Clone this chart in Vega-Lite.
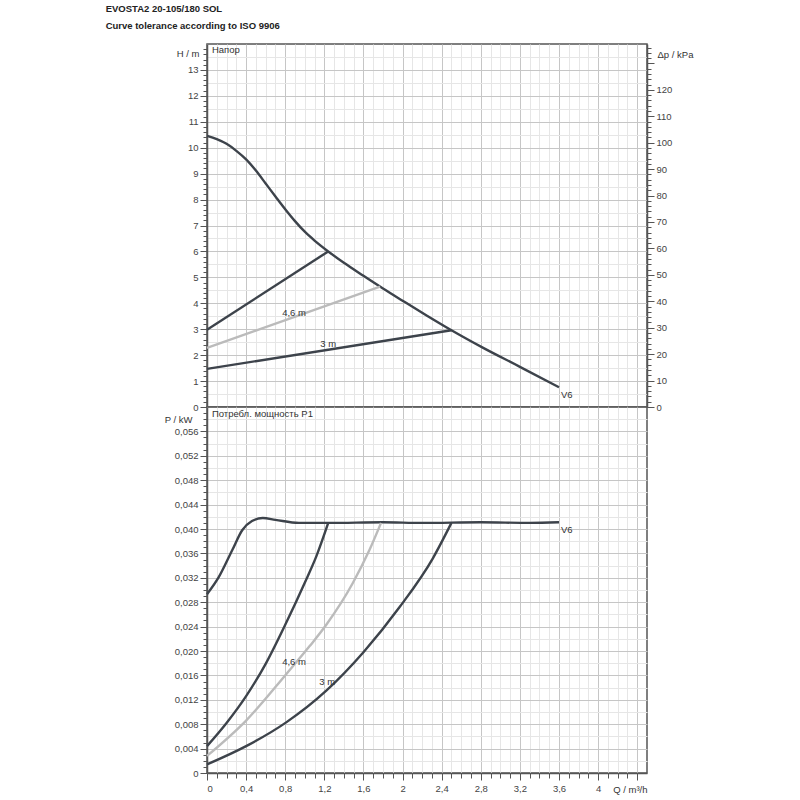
{
  "$schema": "https://vega.github.io/schema/vega-lite/v6.json",
  "padding": {"left": 105, "top": 3, "right": 5, "bottom": 5},
  "bounds": "flush",
  "config": {
    "font": "Liberation Sans",
    "view": {"stroke": "#555", "strokeWidth": 1.5},
    "axis": {
      "labelFont": "Liberation Sans", "labelFontSize": 9.5, "labelColor": "#444", "labelOverlap": false,
      "titleFont": "Liberation Sans", "titleFontSize": 9.5, "titleFontWeight": "normal", "titleColor": "#333",
      "domainColor": "#555", "domainWidth": 1.5, "tickColor": "#555", "labelPadding": 2
    },
    "text": {"font": "Liberation Sans", "fontSize": 9.5, "color": "#333"}
  },
  "title": {
    "text": "EVOSTA2 20-105/180 SOL",
    "subtitle": "Curve tolerance according to ISO 9906",
    "anchor": "start", "font": "Liberation Sans", "fontSize": 9.5, "fontWeight": "bold", "color": "#222",
    "subtitleFont": "Liberation Sans", "subtitleFontSize": 9.5, "subtitleFontWeight": "bold", "subtitleColor": "#222",
    "subtitlePadding": 8, "offset": 11, "dx": -55
  },
  "datasets": {
    "head": [
      {"curve": "V6", "Q": 0, "H": 10.46},
      {"curve": "V6", "Q": 0.1, "H": 10.33},
      {"curve": "V6", "Q": 0.2, "H": 10.15},
      {"curve": "V6", "Q": 0.3, "H": 9.88},
      {"curve": "V6", "Q": 0.4, "H": 9.55},
      {"curve": "V6", "Q": 0.5, "H": 9.12},
      {"curve": "V6", "Q": 0.6, "H": 8.62},
      {"curve": "V6", "Q": 0.7, "H": 8.12},
      {"curve": "V6", "Q": 0.8, "H": 7.63},
      {"curve": "V6", "Q": 0.9, "H": 7.17},
      {"curve": "V6", "Q": 1.0, "H": 6.76},
      {"curve": "V6", "Q": 1.1, "H": 6.42},
      {"curve": "V6", "Q": 1.24, "H": 6.0},
      {"curve": "V6", "Q": 1.4, "H": 5.56},
      {"curve": "V6", "Q": 1.6, "H": 5.06},
      {"curve": "V6", "Q": 1.8, "H": 4.57},
      {"curve": "V6", "Q": 2.0, "H": 4.1},
      {"curve": "V6", "Q": 2.25, "H": 3.52},
      {"curve": "V6", "Q": 2.5, "H": 2.96},
      {"curve": "V6", "Q": 2.82, "H": 2.29},
      {"curve": "V6", "Q": 3.2, "H": 1.55},
      {"curve": "V6", "Q": 3.6, "H": 0.76},
      {"curve": "upper", "Q": 0, "H": 2.98},
      {"curve": "upper", "Q": 1.24, "H": 6.0},
      {"curve": "4,6 m", "Q": 0, "H": 2.28},
      {"curve": "4,6 m", "Q": 1.77, "H": 4.64},
      {"curve": "3 m", "Q": 0, "H": 1.47},
      {"curve": "3 m", "Q": 2.5, "H": 2.96}
    ],
    "power": [
      {"curve": "V6", "Q": 0, "P": 0.0293},
      {"curve": "V6", "Q": 0.12, "P": 0.0321},
      {"curve": "V6", "Q": 0.26, "P": 0.0366},
      {"curve": "V6", "Q": 0.36, "P": 0.0398},
      {"curve": "V6", "Q": 0.46, "P": 0.0413},
      {"curve": "V6", "Q": 0.57, "P": 0.0418},
      {"curve": "V6", "Q": 0.7, "P": 0.0415},
      {"curve": "V6", "Q": 0.94, "P": 0.041},
      {"curve": "V6", "Q": 1.25, "P": 0.041},
      {"curve": "V6", "Q": 1.8, "P": 0.0411},
      {"curve": "V6", "Q": 2.2, "P": 0.041},
      {"curve": "V6", "Q": 2.8, "P": 0.0411},
      {"curve": "V6", "Q": 3.3, "P": 0.041},
      {"curve": "V6", "Q": 3.6, "P": 0.0411},
      {"curve": "upper", "Q": 0, "P": 0.0044},
      {"curve": "upper", "Q": 0.2, "P": 0.0082},
      {"curve": "upper", "Q": 0.4, "P": 0.0126},
      {"curve": "upper", "Q": 0.6, "P": 0.0179},
      {"curve": "upper", "Q": 0.8, "P": 0.0243},
      {"curve": "upper", "Q": 1.0, "P": 0.0312},
      {"curve": "upper", "Q": 1.12, "P": 0.0356},
      {"curve": "upper", "Q": 1.24, "P": 0.041},
      {"curve": "4,6 m", "Q": 0, "P": 0.0028},
      {"curve": "4,6 m", "Q": 0.4, "P": 0.0086},
      {"curve": "4,6 m", "Q": 0.81, "P": 0.0162},
      {"curve": "4,6 m", "Q": 1.05, "P": 0.0208},
      {"curve": "4,6 m", "Q": 1.22, "P": 0.0243},
      {"curve": "4,6 m", "Q": 1.49, "P": 0.0311},
      {"curve": "4,6 m", "Q": 1.66, "P": 0.0365},
      {"curve": "4,6 m", "Q": 1.78, "P": 0.041},
      {"curve": "3 m", "Q": 0, "P": 0.0014},
      {"curve": "3 m", "Q": 0.4, "P": 0.0044},
      {"curve": "3 m", "Q": 0.81, "P": 0.0083},
      {"curve": "3 m", "Q": 1.22, "P": 0.0135},
      {"curve": "3 m", "Q": 1.6, "P": 0.0198},
      {"curve": "3 m", "Q": 1.97, "P": 0.0272},
      {"curve": "3 m", "Q": 2.31, "P": 0.0352},
      {"curve": "3 m", "Q": 2.5, "P": 0.041}
    ],
    "headLabels": [
      {"text": "4,6 m", "Q": 0.89, "H": 3.63},
      {"text": "3 m", "Q": 1.24, "H": 2.43},
      {"text": "V6", "Q": 3.68, "H": 0.46}
    ],
    "powerLabels": [
      {"text": "4,6 m", "Q": 0.89, "P": 0.0182},
      {"text": "3 m", "Q": 1.23, "P": 0.015},
      {"text": "V6", "Q": 3.68, "P": 0.0398}
    ]
  },
  "spacing": 0,
  "vconcat": [
    {
      "width": 440,
      "height": 363,
      "layer": [
        {
          "layer": [
            {
              "data": {"name": "head"},
              "mark": {"type": "line", "interpolate": "monotone"},
              "encoding": {
                "x": {
                  "field": "Q", "type": "quantitative",
                  "scale": {"domain": [0, 4.5], "nice": false},
                  "axis": {
                    "values": [0,0.1,0.2,0.3,0.4,0.5,0.6,0.7,0.8,0.9,1,1.1,1.2,1.3,1.4,1.5,1.6,1.7,1.8,1.9,2,2.1,2.2,2.3,2.4,2.5,2.6,2.7,2.8,2.9,3,3.1,3.2,3.3,3.4,3.5,3.6,3.7,3.8,3.9,4,4.1,4.2,4.3,4.4],
                    "tickCount": 1000,
                    "labels": false, "ticks": false, "domain": false, "title": null,
                    "gridColor": {"condition": {"test": "abs(datum.value / 0.4 - round(datum.value / 0.4)) < 0.01", "value": "#c6c6c6"}, "value": "#e6e6e6"}
                  }
                },
                "y": {
                  "field": "H", "type": "quantitative",
                  "scale": {"domain": [0, 14], "nice": false},
                  "axis": {
                    "values": [0,0.2,0.4,0.5,0.6,0.8,1,1.2,1.4,1.5,1.6,1.8,2,2.2,2.4,2.5,2.6,2.8,3,3.2,3.4,3.5,3.6,3.8,4,4.2,4.4,4.5,4.6,4.8,5,5.2,5.4,5.5,5.6,5.8,6,6.2,6.4,6.5,6.6,6.8,7,7.2,7.4,7.5,7.6,7.8,8,8.2,8.4,8.5,8.6,8.8,9,9.2,9.4,9.5,9.6,9.8,10,10.2,10.4,10.5,10.6,10.8,11,11.2,11.4,11.5,11.6,11.8,12,12.2,12.4,12.5,12.6,12.8,13,13.2,13.4,13.5,13.6,13.8],
                    "tickCount": 1000,
                    "labelExpr": "abs(datum.value - round(datum.value)) < 0.01 ? format(datum.value, 'd') : ''",
                    "tickSize": {"condition": [
                      {"test": "abs(datum.value - round(datum.value)) < 0.01", "value": 7},
                      {"test": "abs(datum.value * 5 - round(datum.value * 5)) < 0.01", "value": 4}
                    ], "value": 0},
                    "gridColor": {"condition": [
                      {"test": "abs(datum.value - round(datum.value)) < 0.01", "value": "#c6c6c6"},
                      {"test": "abs(datum.value * 2 - round(datum.value * 2)) < 0.01", "value": "#e6e6e6"}
                    ], "value": "rgba(0,0,0,0)"},
                    "title": "H / m", "titleAngle": 0, "titleAlign": "right", "titleBaseline": "middle",
                    "titleX": -8, "titleY": 9
                  }
                },
                "color": {
                  "field": "curve", "type": "nominal",
                  "scale": {"domain": ["V6", "upper", "4,6 m", "3 m"], "range": ["#3d434b", "#3d434b", "#bbbbbb", "#3d434b"]},
                  "legend": null
                },
                "strokeWidth": {
                  "field": "curve", "type": "nominal",
                  "scale": {"domain": ["V6", "upper", "4,6 m", "3 m"], "range": [2.4, 2.4, 1, 2.4]},
                  "legend": null
                }
              }
            },
            {
              "data": {"name": "headLabels"},
              "mark": {"type": "text", "align": "center", "baseline": "middle"},
              "encoding": {
                "x": {"field": "Q", "type": "quantitative"},
                "y": {"field": "H", "type": "quantitative"},
                "text": {"field": "text"}
              }
            },
            {
              "data": {"values": [{"caption": "Напор", "Q": 0.05, "H": 13.78}]},
              "mark": {"type": "text", "align": "left", "baseline": "middle"},
              "encoding": {
                "x": {"field": "Q", "type": "quantitative"},
                "y": {"field": "H", "type": "quantitative"},
                "text": {"field": "caption"}
              }
            }
          ]
        },
        {
          "data": {"name": "headLabels"},
          "mark": {"type": "point", "opacity": 0},
          "encoding": {
            "y": {
              "datum": 0, "type": "quantitative",
              "scale": {"domain": [0, 137.34], "nice": false},
              "axis": {
                "orient": "right", "grid": false, "tickCount": 1000,
                "values": [0,2,4,6,8,10,12,14,16,18,20,22,24,26,28,30,32,34,36,38,40,42,44,46,48,50,52,54,56,58,60,62,64,66,68,70,72,74,76,78,80,82,84,86,88,90,92,94,96,98,100,102,104,106,108,110,112,114,116,118,120,122,124,126,128,130,132,134,136],
                "labelExpr": "datum.value % 10 === 0 && datum.value <= 120 ? datum.value : ''",
                "tickSize": {"condition": {"test": "datum.value % 10 === 0", "value": 7}, "value": 4},
                "title": "Δp / kPa", "titleAngle": 0, "titleAlign": "left", "titleBaseline": "middle",
                "titleX": 10, "titleY": 10
              }
            }
          }
        }
      ],
      "resolve": {"scale": {"y": "independent"}}
    },
    {
      "width": 440,
      "height": 366,
      "layer": [
        {
          "data": {"name": "power"},
          "mark": {"type": "line", "interpolate": "monotone"},
          "encoding": {
            "x": {
              "field": "Q", "type": "quantitative",
              "scale": {"domain": [0, 4.5], "nice": false},
              "axis": {
                "values": [0,0.1,0.2,0.3,0.4,0.5,0.6,0.7,0.8,0.9,1,1.1,1.2,1.3,1.4,1.5,1.6,1.7,1.8,1.9,2,2.1,2.2,2.3,2.4,2.5,2.6,2.7,2.8,2.9,3,3.1,3.2,3.3,3.4,3.5,3.6,3.7,3.8,3.9,4,4.1,4.2,4.3,4.4],
                "tickCount": 1000,
                "labelExpr": "abs(datum.value / 0.4 - round(datum.value / 0.4)) < 0.01 && datum.value < 4.2 ? replace(format(datum.value, '.1~f'), '.', ',') : ''",
                "tickSize": {"condition": {"test": "abs(datum.value / 0.4 - round(datum.value / 0.4)) < 0.01", "value": 7}, "value": 5},
                "gridColor": {"condition": {"test": "abs(datum.value / 0.4 - round(datum.value / 0.4)) < 0.01", "value": "#c6c6c6"}, "value": "#e6e6e6"},
                "labelPadding": 3,
                "title": "Q / m³/h", "titleAlign": "right", "titleBaseline": "middle",
                "titleX": 440, "titleY": 16
              }
            },
            "y": {
              "field": "P", "type": "quantitative",
              "scale": {"domain": [0, 0.06], "nice": false},
              "axis": {
                "values": [0,0.001,0.002,0.003,0.004,0.005,0.006,0.007,0.008,0.009,0.01,0.011,0.012,0.013,0.014,0.015,0.016,0.017,0.018,0.019,0.02,0.021,0.022,0.023,0.024,0.025,0.026,0.027,0.028,0.029,0.03,0.031,0.032,0.033,0.034,0.035,0.036,0.037,0.038,0.039,0.04,0.041,0.042,0.043,0.044,0.045,0.046,0.047,0.048,0.049,0.05,0.051,0.052,0.053,0.054,0.055,0.056,0.057,0.058,0.059],
                "tickCount": 1000,
                "labelExpr": "abs(datum.value / 0.004 - round(datum.value / 0.004)) < 0.01 ? (datum.value === 0 ? '0' : replace(format(datum.value, '.3f'), '.', ',')) : ''",
                "tickSize": {"condition": {"test": "abs(datum.value / 0.004 - round(datum.value / 0.004)) < 0.01", "value": 7}, "value": 4},
                "gridColor": {"condition": [
                  {"test": "abs(datum.value / 0.004 - round(datum.value / 0.004)) < 0.01", "value": "#c6c6c6"},
                  {"test": "abs(datum.value / 0.002 - round(datum.value / 0.002)) < 0.01", "value": "#e6e6e6"}
                ], "value": "rgba(0,0,0,0)"},
                "title": "P  / kW", "titleAngle": 0, "titleAlign": "right", "titleBaseline": "middle",
                "titleX": -15, "titleY": 12
              }
            },
            "color": {
              "field": "curve", "type": "nominal",
              "scale": {"domain": ["V6", "upper", "4,6 m", "3 m"], "range": ["#3d434b", "#3d434b", "#bbbbbb", "#3d434b"]},
              "legend": null
            },
            "strokeWidth": {
              "field": "curve", "type": "nominal",
              "scale": {"domain": ["V6", "upper", "4,6 m", "3 m"], "range": [2.4, 2.4, 1, 2.4]},
              "legend": null
            }
          }
        },
        {
          "data": {"name": "powerLabels"},
          "mark": {"type": "text", "align": "center", "baseline": "middle"},
          "encoding": {
            "x": {"field": "Q", "type": "quantitative"},
            "y": {"field": "P", "type": "quantitative"},
            "text": {"field": "text"}
          }
        },
        {
          "data": {"values": [{"caption": "Потребл. мощность P1", "Q": 0.05, "P": 0.0589}]},
          "mark": {"type": "text", "align": "left", "baseline": "middle"},
          "encoding": {
            "x": {"field": "Q", "type": "quantitative"},
            "y": {"field": "P", "type": "quantitative"},
            "text": {"field": "caption"}
          }
        }
      ]
    }
  ]
}
